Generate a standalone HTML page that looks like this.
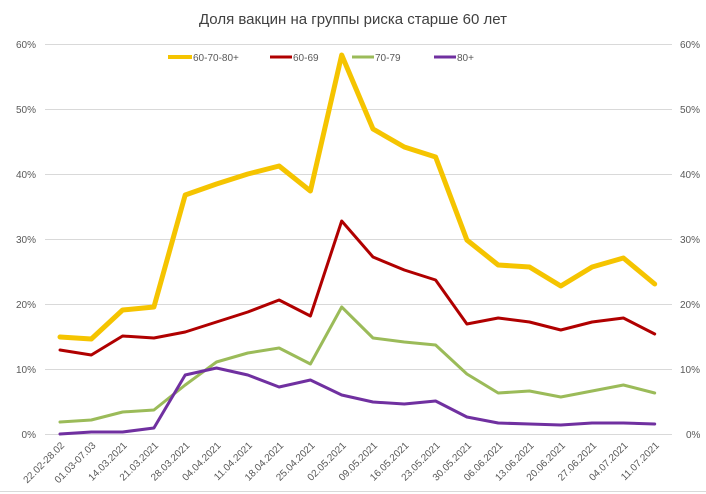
<!DOCTYPE html>
<html><head><meta charset="utf-8"><style>
body{margin:0;background:#fff;}
svg{display:block;font-family:"Liberation Sans",sans-serif;}
</style></head><body>
<svg width="706" height="494" viewBox="0 0 706 494">
<text x="353" y="24" text-anchor="middle" font-size="15" fill="#404040">Доля вакцин на группы риска старше 60 лет</text>
<g stroke="#d9d9d9" stroke-width="1">
<line x1="45" x2="672" y1="44.5" y2="44.5"/>
<line x1="45" x2="672" y1="109.5" y2="109.5"/>
<line x1="45" x2="672" y1="174.5" y2="174.5"/>
<line x1="45" x2="672" y1="239.5" y2="239.5"/>
<line x1="45" x2="672" y1="304.5" y2="304.5"/>
<line x1="45" x2="672" y1="369.5" y2="369.5"/>
<line x1="45" x2="672" y1="434.5" y2="434.5"/>
<line x1="0" x2="706" y1="491.5" y2="491.5"/>
</g>
<g font-size="10" fill="#595959">
<text x="36" y="48" text-anchor="end">60%</text><text x="36" y="113" text-anchor="end">50%</text><text x="36" y="178" text-anchor="end">40%</text><text x="36" y="243" text-anchor="end">30%</text><text x="36" y="308" text-anchor="end">20%</text><text x="36" y="373" text-anchor="end">10%</text><text x="36" y="438" text-anchor="end">0%</text>
<text x="680" y="48">60%</text><text x="680" y="113">50%</text><text x="680" y="178">40%</text><text x="680" y="243">30%</text><text x="680" y="308">20%</text><text x="680" y="373">10%</text><text x="686" y="438">0%</text>
</g>
<g font-size="10" fill="#595959" text-anchor="end" id="xl"></g>
<g fill="none" stroke-width="3" stroke-linejoin="round" stroke-linecap="round" id="lines"></g>
<g font-size="10" fill="#595959">
<line x1="168" x2="192" y1="57" y2="57" stroke="#f5c400" stroke-width="4"/><text x="193" y="61">60-70-80+</text>
<line x1="270" x2="292" y1="57" y2="57" stroke="#b00000" stroke-width="3"/><text x="293" y="61">60-69</text>
<line x1="352" x2="374" y1="57" y2="57" stroke="#9bbb59" stroke-width="3"/><text x="375" y="61">70-79</text>
<line x1="434" x2="456" y1="57" y2="57" stroke="#7030a0" stroke-width="3"/><text x="457" y="61">80+</text>
</g>
</svg>
<script>
var labels=["22.02-28.02","01.03-07.03","14.03.2021","21.03.2021","28.03.2021","04.04.2021","11.04.2021","18.04.2021","25.04.2021","02.05.2021","09.05.2021","16.05.2021","23.05.2021","30.05.2021","06.06.2021","13.06.2021","20.06.2021","27.06.2021","04.07.2021","11.07.2021"];
var X=i=>60+i*31.3;
var s={"#9bbb59":[422,420,412,410,385,362,353,348,364,307,338,342,345,374,393,391,397,391,385,393],
"#7030a0":[434,432,432,428,375,368,375,387,380,395,402,404,401,417,423,424,425,423,423,424],
"#b00000":[350,355,336,338,332,322,312,300,316,221,257,270,280,324,318,322,330,322,318,334],
"#f5c400":[337,339,310,307,195,184,174,166,191,55,129,147,157,240,265,267,286,267,258,284]};
var ns="http://www.w3.org/2000/svg",g=document.getElementById("lines");
for(var c in s){var p=document.createElementNS(ns,"polyline");p.setAttribute("points",s[c].map((y,i)=>X(i)+","+y).join(" "));p.setAttribute("stroke",c);if(c=="#f5c400")p.setAttribute("stroke-width","5");g.appendChild(p);}
var xl=document.getElementById("xl");
labels.forEach((l,i)=>{var t=document.createElementNS(ns,"text");t.setAttribute("transform","translate("+(X(i)+5)+",446) rotate(-45)");t.textContent=l;xl.appendChild(t);});
</script>
</body></html>
